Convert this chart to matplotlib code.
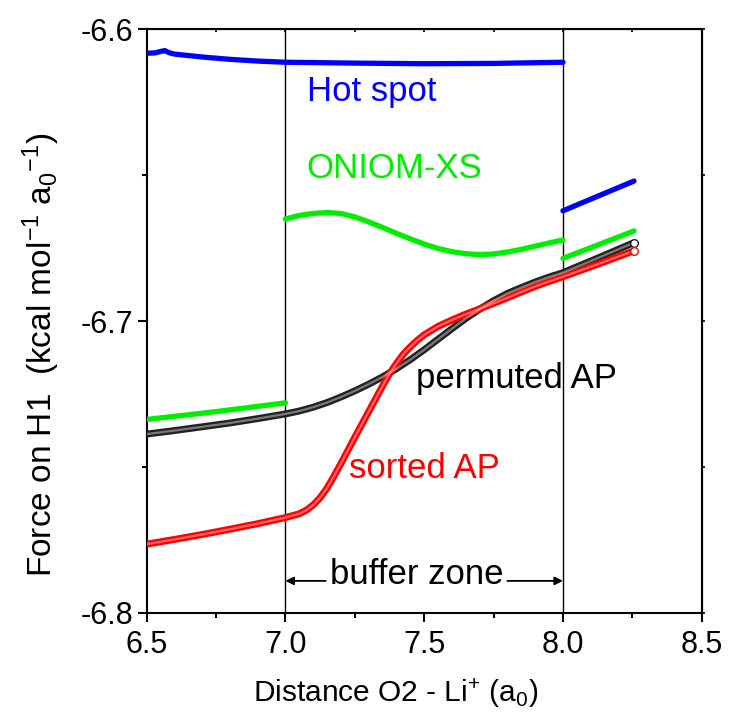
import numpy as np
import matplotlib
matplotlib.use("Agg")
import matplotlib.pyplot as plt
from matplotlib.ticker import MultipleLocator, FormatStrFormatter

plt.rcParams['font.family'] = ['Liberation Sans', 'DejaVu Sans']
plt.rcParams['mathtext.default'] = 'regular'

# Hot spot (blue): inner region + buffer zone, then the jump after 8.0
hot_x1 = [6.50, 6.53, 6.55, 6.565, 6.58, 6.60, 6.65, 6.70, 6.80, 6.90, 7.00,
          7.25, 7.50, 7.75, 8.00]
hot_y1 = [-6.6082, -6.6081, -6.6076, -6.6073, -6.6080, -6.6085, -6.6090, -6.6095,
          -6.6103, -6.6109, -6.6113, -6.6116, -6.6118, -6.6117, -6.6113]
hot_x2 = [8.00, 8.128, 8.256]
hot_y2 = [-6.6622, -6.6571, -6.6520]

# ONIOM-XS (green): three separate pieces
oni_x1 = [6.50, 6.75, 7.00]
oni_y1 = [-6.7337, -6.7310, -6.7280]
oni_x2 = [7.00, 7.05, 7.10, 7.15, 7.20, 7.25, 7.30, 7.35, 7.40, 7.45, 7.50,
          7.55, 7.60, 7.65, 7.70, 7.75, 7.80, 7.85, 7.90, 7.95, 8.00]
oni_y2 = [-6.6650, -6.6638, -6.6631, -6.6628, -6.6631, -6.6643, -6.6660, -6.6679,
          -6.6699, -6.6718, -6.6736, -6.6751, -6.6762, -6.6769, -6.6772, -6.6770,
          -6.6763, -6.6754, -6.6743, -6.6732, -6.6722]
oni_x3 = [8.00, 8.128, 8.256]
oni_y3 = [-6.6785, -6.6738, -6.6691]

# permuted AP (black)
perm_x = [6.50, 6.60, 6.70, 6.80, 6.90, 7.00, 7.05, 7.10, 7.15, 7.20, 7.25,
          7.30, 7.35, 7.40, 7.45, 7.50, 7.55, 7.60, 7.65, 7.70, 7.75, 7.80,
          7.85, 7.90, 7.95, 8.00, 8.128, 8.256]
perm_y = [-6.7387, -6.7375, -6.7362, -6.7349, -6.7334, -6.7318, -6.7308, -6.7295,
          -6.7279, -6.7260, -6.7239, -6.7216, -6.7191, -6.7163, -6.7132, -6.7098,
          -6.7062, -6.7026, -6.6991, -6.6959, -6.6930, -6.6905, -6.6885, -6.6866,
          -6.6849, -6.6834, -6.6783, -6.6731]

# sorted AP (red)
sort_x = [6.50, 6.60, 6.70, 6.80, 6.90, 7.00, 7.05, 7.075, 7.10, 7.125, 7.15,
          7.175, 7.20, 7.225, 7.25, 7.30, 7.35, 7.375, 7.40, 7.425, 7.45, 7.475,
          7.50, 7.55, 7.60, 7.65, 7.70, 7.75, 7.80, 7.85, 7.90, 7.95, 8.00,
          8.128, 8.256]
sort_y = [-6.7764, -6.7748, -6.7731, -6.7713, -6.7694, -6.7673, -6.7660, -6.7648,
          -6.7630, -6.7605, -6.7572, -6.7531, -6.7488, -6.7443, -6.7398, -6.7310,
          -6.7222, -6.7180, -6.7145, -6.7113, -6.7088, -6.7066, -6.7047, -6.7018,
          -6.6996, -6.6976, -6.6958, -6.6939, -6.6920, -6.6900, -6.6881, -6.6864,
          -6.6848, -6.6804, -6.6759]

BLUE = '#0000ff'
GREEN = '#00ee00'
RED = '#ff0000'

fig = plt.figure(figsize=(7.32, 7.21), dpi=100)
ax = fig.add_axes([0.2004, 0.1498, 0.7582, 0.8096])

# buffer zone boundaries
for xb in (7.0, 8.0):
    ax.axvline(xb, color='black', lw=1.0, zorder=1)

for xs, ys, c in [(hot_x1, hot_y1, BLUE), (hot_x2, hot_y2, BLUE),
                  (oni_x1, oni_y1, GREEN), (oni_x2, oni_y2, GREEN),
                  (oni_x3, oni_y3, GREEN)]:
    ax.plot(xs, ys, color=c, lw=3.8, solid_capstyle='round',
            solid_joinstyle='round', zorder=3)


def ring_curve(xs, ys, c):
    # dense open-circle series look: coloured band with a light core
    ax.plot(xs, ys, color=c, lw=5.0, solid_capstyle='butt',
            solid_joinstyle='round', zorder=4)
    ax.plot(xs, ys, color='white', lw=1.6, alpha=0.4,
            solid_joinstyle='round', zorder=5)
    ax.plot(xs[-1], ys[-1], 'o', ms=5.5, mfc='white', mec=c, mew=1.0, zorder=6)


ring_curve(perm_x, perm_y, '#222222')
ring_curve(sort_x, sort_y, RED)

ax.text(7.077, -6.6246, 'Hot spot', color=BLUE, fontsize=25, va='baseline')
ax.text(7.075, -6.6511, 'ONIOM-XS', color=GREEN, fontsize=25, va='baseline')
ax.text(7.471, -6.7228, 'permuted AP', color='black', fontsize=25, va='baseline')
ax.text(7.230, -6.7539, 'sorted AP', color=RED, fontsize=25, va='baseline')
ax.text(7.474, -6.7902, 'buffer zone', color='black', fontsize=25,
        ha='center', va='baseline')
ax.annotate('', xy=(7.0, -6.7890), xytext=(7.145, -6.7890),
            arrowprops=dict(arrowstyle='-|>', color='black', lw=1.3,
                            mutation_scale=12, shrinkA=0, shrinkB=0))
ax.annotate('', xy=(8.0, -6.7890), xytext=(7.80, -6.7890),
            arrowprops=dict(arrowstyle='-|>', color='black', lw=1.3,
                            mutation_scale=12, shrinkA=0, shrinkB=0))

ax.set_xlim(6.5, 8.5)
ax.set_ylim(-6.8, -6.6)
ax.xaxis.set_major_locator(MultipleLocator(0.5))
ax.xaxis.set_minor_locator(MultipleLocator(0.25))
ax.yaxis.set_major_locator(MultipleLocator(0.1))
ax.yaxis.set_minor_locator(MultipleLocator(0.05))
ax.xaxis.set_major_formatter(FormatStrFormatter('%.1f'))
ax.yaxis.set_major_formatter(FormatStrFormatter('%.1f'))

for s in ax.spines.values():
    s.set_linewidth(1.5)
ax.tick_params(which='major', direction='out', length=6.5, width=1.5,
               labelsize=22, pad=3)
ax.tick_params(which='minor', direction='out', length=3.8, width=1.5)
ax.tick_params(axis='x', which='major', pad=6)

# small mirrored ticks on top and right
top = ax.secondary_xaxis('top')
top.xaxis.set_major_locator(MultipleLocator(0.25))
top.tick_params(direction='in', length=2.5, width=1.2, labeltop=False)
right = ax.secondary_yaxis('right')
right.yaxis.set_major_locator(MultipleLocator(0.05))
right.tick_params(direction='out', length=2.5, width=1.2, labelright=False)

ax.set_xlabel('Distance O2 - Li$^{+}$ (a$_0$)', fontsize=21.5)
ax.set_ylabel('Force on H1  (kcal mol$^{-1}$ a$_0$$^{-1}$)', fontsize=24)
ax.xaxis.set_label_coords(0.449, -0.108)
ax.yaxis.set_label_coords(-0.153, 0.442)

fig.savefig('out.png', dpi=100)
